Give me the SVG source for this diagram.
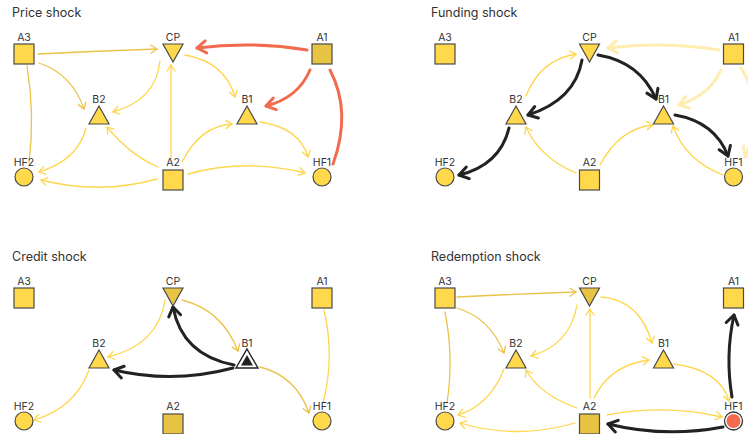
<svg xmlns="http://www.w3.org/2000/svg" width="748" height="434" viewBox="0 0 748 434">
<style>
.title{font-family:Inter,"Liberation Sans",sans-serif;font-size:12.5px;fill:#333}
.lbl{font-family:Inter,"Liberation Sans",sans-serif;font-size:10.5px;fill:#333;text-anchor:middle}
.n{fill:#FFD94B;stroke:#4a4a4a;stroke-width:1.2}
.nd{fill:#E8C445;stroke:#4a4a4a;stroke-width:1.2}
.e{fill:none;stroke-linecap:round}
.y{stroke:#FFD64D;stroke-width:1.3}
.g{stroke:#EBC34A;stroke-width:1.3}
.p{stroke:#FFEDB0;stroke-width:3}
.r{stroke:#F26B4F;stroke-width:3}
.k{stroke:#222;stroke-width:3}
.ay{marker-end:url(#my)}
.ag{marker-end:url(#mg)}
.ap{marker-end:url(#mp)}
.ar{marker-end:url(#mr)}
.ak{marker-end:url(#mk)}
</style>
<defs>
<marker id="my" markerUnits="userSpaceOnUse" viewBox="-1 -1 9 10" refX="6" refY="4" markerWidth="9" markerHeight="10" orient="auto" overflow="visible"><path d="M0,0 L6,4 L0,8" fill="none" stroke="#FFD64D" stroke-width="1.3" stroke-linecap="round" stroke-linejoin="round"/></marker>
<marker id="mg" markerUnits="userSpaceOnUse" viewBox="-1 -1 9 10" refX="6" refY="4" markerWidth="9" markerHeight="10" orient="auto" overflow="visible"><path d="M0,0 L6,4 L0,8" fill="none" stroke="#EBC34A" stroke-width="1.3" stroke-linecap="round" stroke-linejoin="round"/></marker>
<marker id="mp" markerUnits="userSpaceOnUse" viewBox="-2 -2 14 16" refX="9" refY="6" markerWidth="14" markerHeight="16" orient="auto" overflow="visible"><path d="M0,0 L9,6 L0,12" fill="none" stroke="#FFEDB0" stroke-width="3" stroke-linecap="round" stroke-linejoin="round"/></marker>
<marker id="mr" markerUnits="userSpaceOnUse" viewBox="-2 -2 14 16" refX="9" refY="6" markerWidth="14" markerHeight="16" orient="auto" overflow="visible"><path d="M0,0 L9,6 L0,12" fill="none" stroke="#F26B4F" stroke-width="3" stroke-linecap="round" stroke-linejoin="round"/></marker>
<marker id="mk" markerUnits="userSpaceOnUse" viewBox="-2 -2 14 16" refX="9" refY="6" markerWidth="14" markerHeight="16" orient="auto" overflow="visible"><path d="M0,0 L9,6 L0,12" fill="none" stroke="#222" stroke-width="3" stroke-linecap="round" stroke-linejoin="round"/></marker>
</defs>
<rect width="748" height="434" fill="#fff"/>

<!-- Price shock -->
<g id="price">
<text class="title" x="12" y="17">Price shock</text>
<g id="price-edges">
<path class="e g ag" d="M38,54 Q98,51 157,49"/>
<path class="e g ag" d="M39,63 Q72,74 84,109"/>
<path class="e g" d="M27,66 Q35,115 29,163"/>
<path class="e y ay" d="M160,61 Q156,100 113,112"/>
<path class="e y ay" d="M185,55 Q225,62 235,97"/>
<path class="e y ay" d="M171,158 L171,65"/>
<path class="e y ay" d="M158,167 Q130,155 107,127"/>
<path class="e y ay" d="M86,128 Q78,160 39,172"/>
<path class="e y ay" d="M157,179 Q100,195 41,180"/>
<path class="e y ay" d="M182,162 Q200,126 232,124"/>
<path class="e y ay" d="M188,174 Q246,158 305,173"/>
<path class="e y ay" d="M260,122 Q300,128 308,157"/>
<path class="e r ar" d="M307,50 Q252,41 197,48"/>
<path class="e r ar" d="M310,70 Q298,98 266,106"/>
<path class="e r" d="M330,70 Q352,112 333,164"/>
</g>
<g id="price-A3"><rect class="n" x="14" y="44" width="20" height="20"/><text class="lbl" x="24" y="41">A3</text></g>
<g id="price-CP"><polygon class="n" points="163,44 183,44 173,62"/><text class="lbl" x="173" y="41">CP</text></g>
<g id="price-A1"><rect class="nd" x="312" y="44" width="20" height="20"/><text class="lbl" x="322" y="41">A1</text></g>
<g id="price-B2"><polygon class="n" points="99,106 109,124 89,124"/><text class="lbl" x="99" y="103">B2</text></g>
<g id="price-B1"><polygon class="n" points="247,106 257,124 237,124"/><text class="lbl" x="247" y="103">B1</text></g>
<g id="price-HF2"><circle class="n" cx="24" cy="177" r="9"/><text class="lbl" x="24" y="166">HF2</text></g>
<g id="price-A2"><rect class="n" x="163" y="170" width="20" height="20"/><text class="lbl" x="173" y="166">A2</text></g>
<g id="price-HF1"><circle class="n" cx="322" cy="177" r="9"/><text class="lbl" x="322" y="166">HF1</text></g>
</g>

<!-- Funding shock -->
<g id="funding">
<text class="title" x="431" y="17">Funding shock</text>
<g id="funding-edges">
<path class="e p ap" d="M719,50 Q663,41 608,48"/>
<path class="e p ap" d="M721,70 Q710,95 679,105"/>
<path class="e p ap" d="M741,68 Q768,110 745,157"/>
<path class="e y ay" d="M526,96 Q540,60 576,54"/>
<path class="e y ay" d="M576,173 Q540,158 526,127"/>
<path class="e y ay" d="M600,165 Q620,128 653,125"/>
<path class="e y ay" d="M723,175 Q685,160 673,126"/>
<path class="e k ak" d="M598,55 Q640,62 656,99"/>
<path class="e k ak" d="M582,60 Q575,100 528,115"/>
<path class="e k ak" d="M509,128 Q500,165 459,175"/>
<path class="e k ak" d="M675,115 Q715,122 728,156"/>
</g>
<g id="funding-A3"><rect class="n" x="435" y="44" width="20" height="20"/><text class="lbl" x="445" y="41">A3</text></g>
<g id="funding-CP"><polygon class="n" points="579.5,44 599.5,44 589.5,62"/><text class="lbl" x="589.5" y="41">CP</text></g>
<g id="funding-A1"><rect class="n" x="723.5" y="44" width="20" height="20"/><text class="lbl" x="733.5" y="41">A1</text></g>
<g id="funding-B2"><polygon class="n" points="516,106 526,124 506,124"/><text class="lbl" x="516" y="103">B2</text></g>
<g id="funding-B1"><polygon class="n" points="663.5,106 673.5,124 653.5,124"/><text class="lbl" x="663.5" y="103">B1</text></g>
<g id="funding-HF2"><circle class="n" cx="445" cy="177" r="9"/><text class="lbl" x="445" y="166">HF2</text></g>
<g id="funding-A2"><rect class="n" x="579.5" y="170" width="20" height="20"/><text class="lbl" x="589.5" y="166">A2</text></g>
<g id="funding-HF1"><circle class="n" cx="733.5" cy="177" r="9"/><text class="lbl" x="733.5" y="166">HF1</text></g>
</g>

<!-- Credit shock -->
<g id="credit">
<text class="title" x="12" y="261">Credit shock</text>
<g id="credit-edges">
<path class="e y ay" d="M165,300 Q158,345 108,357"/>
<path class="e g ag" d="M182,300 Q222,310 238,351"/>
<path class="e y ay" d="M89,370 Q75,408 34,420"/>
<path class="e g ag" d="M260,367 Q296,376 309,413"/>
<path class="e y" d="M324,310 Q335,357 323,403"/>
<path class="e k ak" d="M234,365 Q182,355 173,307"/>
<path class="e k ak" d="M233,368 Q173,384 114,370"/>
</g>
<g id="credit-A3"><rect class="n" x="14" y="288" width="20" height="20"/><text class="lbl" x="24" y="285">A3</text></g>
<g id="credit-CP"><polygon class="nd" points="163,288 183,288 173,306"/><text class="lbl" x="173" y="285">CP</text></g>
<g id="credit-A1"><rect class="n" x="312" y="288" width="20" height="20"/><text class="lbl" x="322" y="285">A1</text></g>
<g id="credit-B2"><polygon class="n" points="99,350 109,368 89,368"/><text class="lbl" x="99" y="347">B2</text></g>
<g id="credit-B1"><polygon points="247,349 258,368 236,368" fill="#fff" stroke="#222" stroke-width="1.4"/><polygon points="247,355 253,365.5 241,365.5" fill="#222"/><text class="lbl" x="247" y="347">B1</text></g>
<g id="credit-HF2"><circle class="n" cx="24" cy="421" r="9"/><text class="lbl" x="24" y="410">HF2</text></g>
<g id="credit-A2"><rect class="nd" x="163" y="414" width="20" height="20"/><text class="lbl" x="173" y="410">A2</text></g>
<g id="credit-HF1"><circle class="n" cx="322" cy="421" r="9"/><text class="lbl" x="322" y="410">HF1</text></g>
</g>

<!-- Redemption shock -->
<g id="redemption">
<text class="title" x="431" y="261">Redemption shock</text>
<g id="redemption-edges">
<path class="e g ag" d="M457,297 Q516,294 576,292"/>
<path class="e g ag" d="M457,308 Q490,318 504,353"/>
<path class="e g" d="M445,312 Q454,357 447,403"/>
<path class="e y ay" d="M577,305 Q570,345 531,356"/>
<path class="e y ay" d="M601,297 Q640,300 652,343"/>
<path class="e y ay" d="M590,398 L590,309"/>
<path class="e y ay" d="M577,408 Q540,395 526,370"/>
<path class="e y ay" d="M594,398 Q610,365 649,360"/>
<path class="e y ay" d="M504,369 Q490,405 458,415"/>
<path class="e y ay" d="M575,423 Q517,440 460,423"/>
<path class="e y ay" d="M674,364 Q720,370 729,401"/>
<path class="e y ay" d="M607,415 Q665,404 722,417"/>
<path class="e k ak" d="M723,427 Q665,438 608,424"/>
<path class="e k ak" d="M732,397 Q725,356 734,315"/>
</g>
<g id="redemption-A3"><rect class="n" x="435" y="288" width="20" height="20"/><text class="lbl" x="445" y="285">A3</text></g>
<g id="redemption-CP"><polygon class="nd" points="579.5,288 599.5,288 589.5,306"/><text class="lbl" x="589.5" y="285">CP</text></g>
<g id="redemption-A1"><rect class="n" x="723.5" y="288" width="20" height="20"/><text class="lbl" x="733.5" y="285">A1</text></g>
<g id="redemption-B2"><polygon class="n" points="516,350 526,368 506,368"/><text class="lbl" x="516" y="347">B2</text></g>
<g id="redemption-B1"><polygon class="n" points="663.5,350 673.5,368 653.5,368"/><text class="lbl" x="663.5" y="347">B1</text></g>
<g id="redemption-HF2"><circle class="n" cx="445" cy="421" r="9"/><text class="lbl" x="445" y="410">HF2</text></g>
<g id="redemption-A2"><rect class="nd" x="579.5" y="414" width="20" height="20"/><text class="lbl" x="589.5" y="410">A2</text></g>
<g id="redemption-HF1"><circle cx="733.5" cy="421" r="9" fill="#fff" stroke="#333" stroke-width="1.3"/><circle cx="733.5" cy="421" r="7" fill="#F26B4F"/><text class="lbl" x="733.5" y="410">HF1</text></g>
</g>
</svg>
